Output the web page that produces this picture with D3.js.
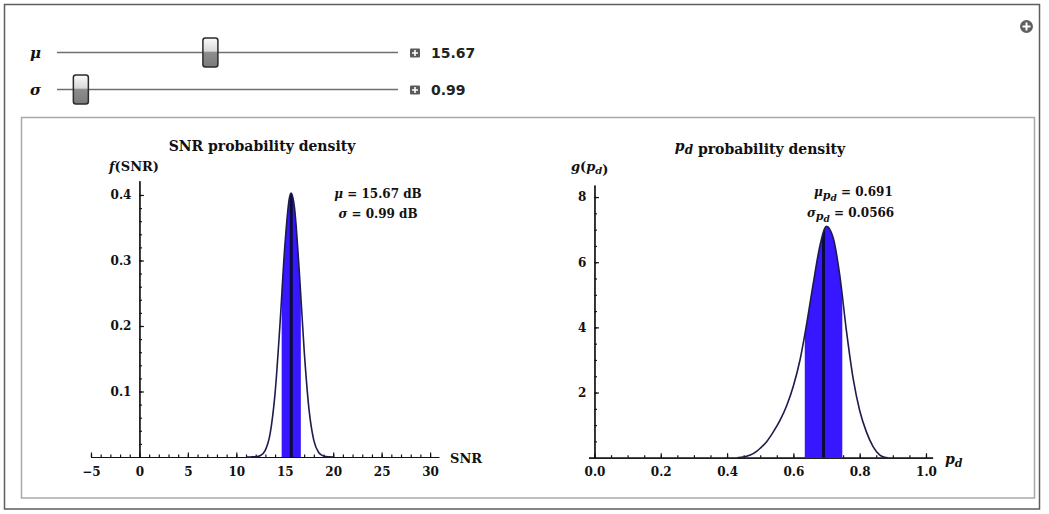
<!DOCTYPE html>
<html>
<head>
<meta charset="utf-8">
<script src="https://cdn.jsdelivr.net/npm/d3@7"></script>
<style>
  body { margin: 0; background: #fff; }
  svg { display: block; }
  .serif { font-family: "DejaVu Serif", serif; fill: #111; }
</style>
</head>
<body>
<script>
// slider settings
var muValue = 15.67, sigmaValue = 0.99;
var muRange = [0, 35], sigmaRange = [0.5, 10];

// SNR density
var snrX = [11, 11.5, 12, 12.5, 13, 13.5, 14, 14.5, 15, 15.5, 15.67, 16, 16.5, 17, 17.5, 18, 18.5, 19, 19.5, 20];
var snrY = [0, 0.0001, 0.0004, 0.0024, 0.0106, 0.0365, 0.0971, 0.2005, 0.3205, 0.3971, 0.403, 0.3813, 0.2836, 0.1635, 0.073, 0.0253, 0.0068, 0.0014, 0.0002, 0];
var snrBand = [14.68, 16.66];
var snrMean = 15.67;

// pd density
var pdX = [0.43, 0.45, 0.47, 0.49, 0.5, 0.52, 0.54, 0.56, 0.58, 0.6, 0.62, 0.64, 0.66, 0.68, 0.7, 0.72, 0.74, 0.76, 0.78, 0.8, 0.82, 0.84, 0.86, 0.875, 0.885];
var pdY = [0, 0.02, 0.08, 0.2, 0.29, 0.5, 0.8, 1.15, 1.6, 2.2, 3.0, 4.1, 5.35, 6.5, 7.1, 6.75, 5.6, 3.9, 2.45, 1.45, 0.8, 0.35, 0.09, 0.015, 0];
var pdBand = [0.6344, 0.7476];
var pdMean = 0.691;

// ticks
var snrTicks = [-5, 0, 5, 10, 15, 20, 25, 30];
var snrMinor = d3.range(-5, 31, 1);
var fTicks = [0.1, 0.2, 0.3, 0.4];
var fMinor = d3.range(0.02, 0.42, 0.02);
var pdTicks = [0, 0.2, 0.4, 0.6, 0.8, 1.0];
var pdMinor = d3.range(0, 1.01, 0.05);
var gTicks = [2, 4, 6, 8];
var gMinor = d3.range(0.5, 8.4, 0.5);

var svg = d3.select("body").append("svg")
  .attr("width", 1049)
  .attr("height", 514);

// frames
svg.append("rect")
  .attr("x", 4.5).attr("y", 4.5).attr("width", 1035).attr("height", 504.5)
  .attr("fill", "#fff").attr("stroke", "#5e5e5e").attr("stroke-width", 1.5);
svg.append("rect")
  .attr("x", 21.5).attr("y", 117.5).attr("width", 1013).attr("height", 380.5)
  .attr("fill", "#fff").attr("stroke", "#a9a9a9").attr("stroke-width", 1.5);

// top right "+" button
svg.append("circle").attr("cx", 1026.5).attr("cy", 26.5).attr("r", 6.5).attr("fill", "#5f5f5f");
svg.append("path").attr("d", "M1022.5,26.5H1030.5M1026.5,22.5V30.5")
  .attr("stroke", "#fff").attr("stroke-width", 2);

// ---------- sliders ----------
var defs = svg.append("defs");
var grad = defs.append("linearGradient").attr("id", "thumb").attr("x1", 0).attr("y1", 0).attr("x2", 0).attr("y2", 1);
grad.append("stop").attr("offset", "0%").attr("stop-color", "#fbfbfb");
grad.append("stop").attr("offset", "45%").attr("stop-color", "#d9d9d9");
grad.append("stop").attr("offset", "50%").attr("stop-color", "#8d8d8d");
grad.append("stop").attr("offset", "100%").attr("stop-color", "#7b7b7b");

function slider(label, value, range, cy, txt) {
  var s = d3.scaleLinear().domain(range).range([64, 391]);
  svg.append("text").attr("class", "serif")
    .attr("x", 30).attr("y", cy + 5)
    .style("font-style", "italic").style("font-weight", "bold").style("font-size", "15px")
    .text(label);
  svg.append("line")
    .attr("x1", 57).attr("x2", 398).attr("y1", cy).attr("y2", cy)
    .attr("stroke", "#6f6f6f").attr("stroke-width", 1.5);
  svg.append("rect")
    .attr("x", s(value) - 7.5).attr("y", cy - 14.5)
    .attr("width", 15).attr("height", 29).attr("rx", 2.5)
    .attr("fill", "url(#thumb)").attr("stroke", "#2b2b2b").attr("stroke-width", 1.5);
  svg.append("rect")
    .attr("x", 410).attr("y", cy - 4).attr("width", 10).attr("height", 9).attr("rx", 1)
    .attr("fill", "#5a5a5a");
  svg.append("path")
    .attr("d", `M412,${cy + 0.5}H418M415,${cy - 2.5}V${cy + 3.5}`)
    .attr("stroke", "#fff").attr("stroke-width", 1.6);
  svg.append("text")
    .attr("x", 431).attr("y", cy + 5)
    .style("font-family", "'DejaVu Sans', sans-serif").style("font-weight", "bold")
    .style("font-size", "14px").attr("fill", "#222")
    .text(txt);
}
slider("\u03bc", muValue, muRange, 52.5, "15.67");
slider("\u03c3", sigmaValue, sigmaRange, 89.5, "0.99");

// ---------- density panels ----------
function panel(o) {
  var g = svg.append("g");
  var x = d3.scaleLinear().domain(o.xDomain).range(o.xRange);
  var y = d3.scaleLinear().domain(o.yDomain).range(o.yRange);
  var pts = o.xs.map((v, i) => [v, o.ys[i]]);

  // minor ticks
  g.append("g").attr("transform", `translate(0,${y(0)})`)
    .call(d3.axisBottom(x).tickValues(o.xMinor).tickSize(-2.5).tickSizeOuter(0).tickFormat(""));
  g.append("g").attr("transform", `translate(${x(0)},0)`)
    .call(d3.axisLeft(y).tickValues(o.yMinor).tickSize(-2.5).tickSizeOuter(0).tickFormat(""));

  // major ticks
  var xa = g.append("g").attr("transform", `translate(0,${y(0)})`)
    .call(d3.axisBottom(x).tickValues(o.xTicks).tickSize(-4.5).tickSizeOuter(0).tickPadding(10).tickFormat(o.xFmt));
  var ya = g.append("g").attr("transform", `translate(${x(0)},0)`)
    .call(d3.axisLeft(y).tickValues(o.yTicks).tickSize(-4.5).tickSizeOuter(0).tickPadding(8).tickFormat(o.yFmt));
  g.selectAll(".domain, .tick line").attr("stroke", "#111").attr("stroke-width", 1.2);
  [xa, ya].forEach(a => a.attr("font-family", null).attr("font-size", null));
  g.selectAll(".tick text").attr("class", "serif")
    .style("font-size", "12px").style("font-weight", "bold");

  // shaded mu +- sigma band under the curve
  var id = o.id;
  defs.append("clipPath").attr("id", id + "-band")
    .append("rect")
    .attr("x", x(o.band[0])).attr("width", x(o.band[1]) - x(o.band[0]))
    .attr("y", 0).attr("height", 514);
  var area = d3.area().x(d => x(d[0])).y0(y(0)).y1(d => y(d[1])).curve(d3.curveMonotoneX);
  defs.append("clipPath").attr("id", id + "-under")
    .append("path").attr("d", area(pts));

  g.append("path").attr("d", area(pts))
    .attr("clip-path", `url(#${id}-band)`)
    .attr("fill", "#3717ff");

  g.append("line")
    .attr("x1", x(o.mean)).attr("x2", x(o.mean))
    .attr("y1", y(0)).attr("y2", y(o.yDomain[1]))
    .attr("clip-path", `url(#${id}-under)`)
    .attr("stroke", "#0c0c3c").attr("stroke-width", 3);

  var line = d3.line().x(d => x(d[0])).y(d => y(d[1])).curve(d3.curveMonotoneX);
  g.append("path").attr("d", line(pts))
    .attr("fill", "none").attr("stroke", "#1c1c4e").attr("stroke-width", 1.6);

  return g;
}

var left = panel({
  id: "snr",
  xDomain: [-5.05, 30.9], xRange: [90.5, 438.8],
  yDomain: [0, 0.4218], yRange: [457, 180.7],
  xs: snrX, ys: snrY, band: snrBand, mean: snrMean,
  xTicks: snrTicks, xMinor: snrMinor, yTicks: fTicks, yMinor: fMinor,
  xFmt: d3.format("d"), yFmt: d3.format(".1f")
});

var right = panel({
  id: "pd",
  xDomain: [-0.018, 1.02], xRange: [588.5, 932.6],
  yDomain: [0, 8.37], yRange: [457.7, 185],
  xs: pdX, ys: pdY, band: pdBand, mean: pdMean,
  xTicks: pdTicks, xMinor: pdMinor, yTicks: gTicks, yMinor: gMinor,
  xFmt: d3.format(".1f"), yFmt: d3.format("d")
});

// ---------- labels ----------
function label(x, y, anchor, size, weight) {
  return svg.append("text").attr("class", "serif")
    .attr("x", x).attr("y", y).attr("text-anchor", anchor)
    .style("font-size", size + "px").style("font-weight", weight);
}
function sub(t, s, size) {
  // italic p with subscript d
  t.append("tspan").style("font-style", "italic").text(s);
  t.append("tspan").style("font-style", "italic").style("font-size", size + "px").attr("dy", 3).text("d");
  t.append("tspan").attr("dy", -3).text("");
}

label(262, 151, "middle", 14, "bold").text("SNR probability density");
var t2 = label(760, 151, "middle", 14, "bold");
sub(t2, "p", 12);
t2.append("tspan").text(" probability density");

var fl = label(109, 171, "start", 13, "bold");
fl.append("tspan").style("font-style", "italic").text("f");
fl.append("tspan").text("(SNR)");

var gl = label(571, 171, "start", 13, "bold");
gl.append("tspan").style("font-style", "italic").text("g");
gl.append("tspan").text("(");
sub(gl, "p", 10);
gl.append("tspan").text(")");

label(450, 463, "start", 13, "bold").text("SNR");
var pl = label(945, 464, "start", 14, "bold");
sub(pl, "p", 11);

// stats annotations
var a1 = label(378, 198, "middle", 12, "bold");
a1.append("tspan").style("font-style", "italic").text("\u03bc");
a1.append("tspan").text(" = 15.67 dB");
var a2 = label(378, 218, "middle", 12, "bold");
a2.append("tspan").style("font-style", "italic").text("\u03c3");
a2.append("tspan").text(" = 0.99 dB");

var b1 = label(814, 196, "start", 12, "bold");
b1.append("tspan").style("font-style", "italic").text("\u03bc");
b1.append("tspan").style("font-style", "italic").style("font-size", "11px").attr("dy", 3).text("p");
b1.append("tspan").style("font-style", "italic").style("font-size", "9px").attr("dy", 2).text("d");
b1.append("tspan").attr("dy", -5).text(" = 0.691");
var b2 = label(807, 217, "start", 12, "bold");
b2.append("tspan").style("font-style", "italic").text("\u03c3");
b2.append("tspan").style("font-style", "italic").style("font-size", "11px").attr("dy", 3).text("p");
b2.append("tspan").style("font-style", "italic").style("font-size", "9px").attr("dy", 2).text("d");
b2.append("tspan").attr("dy", -5).text(" = 0.0566");
</script>
</body>
</html>
